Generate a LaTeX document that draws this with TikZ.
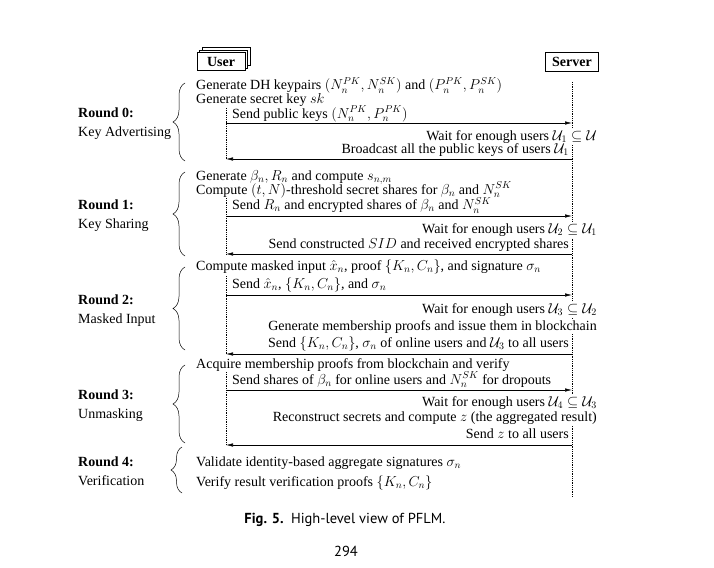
\documentclass[tikz,border=0pt]{standalone}
\usepackage{fontspec}
\setmainfont{Liberation Serif}
\newfontfamily\capfont{PT Sans}
\usetikzlibrary{arrows.meta,decorations.pathreplacing,shadows}

\begin{document}
\begin{tikzpicture}[
		x=1pt, y=-1pt,
		every node/.style={inner sep=0pt, font=\fontsize{14}{16}\selectfont},
		actor/.style={draw, fill=white, line width=0.6pt, minimum height=18pt, font=\fontsize{14}{16}\selectfont\bfseries},
		lifeline/.style={line width=0.5pt, dash pattern=on 0.8pt off 1pt},
		msg/.style={-{Latex[length=7pt,width=3.5pt]}, line width=0.6pt},
		usertext/.style={anchor=base west},
		servertext/.style={anchor=base east},
		waittext/.style={anchor=base east, fill=white, inner ysep=1.5pt},
		roundbrace/.style={decorate, decoration={brace, amplitude=12pt}, line width=0.5pt},
		roundlabel/.style={anchor=base west},
		captext/.style={anchor=base, font=\capfont\fontsize{14.5}{16}\selectfont}
		]
		\useasboundingbox (0,0) rectangle (714,567);
		
		% ---------------------------------------------------------
		% Actors and life lines
		% ---------------------------------------------------------
		\node[actor, minimum width=48pt, double copy shadow={shadow xshift=2.5pt, shadow yshift=2.5pt, draw, fill=white}] (user) at (221,61.5) {User};
		\node[actor, minimum width=53pt, minimum height=19pt] (server) at (572,61.5) {Server};
		
		\coordinate (srvtop) at (572,82);
		\coordinate (srvend) at (572,497);
		\draw[lifeline] (srvtop) -- (srvend);
		
		% messages of each round: top of user line / send arrow / answer arrow
		\foreach \n/\top/\go/\back in {0/108/123/159, 1/198/216/254, 2/276/295/354, 3/372/390/445} {
			\coordinate (u\n top) at (226,\top);
			\coordinate (u\n go) at (226,\go);
			\coordinate (s\n go) at (572,\go);
			\coordinate (s\n back) at (572,\back);
			\coordinate (u\n back) at (226,\back);
			\draw[lifeline] (u\n top) -- (u\n back);
			\draw[msg] (u\n go) -- (s\n go);
			\draw[msg] (s\n back) -- (u\n back);
		}
		
		% ---------------------------------------------------------
		% Round labels and braces
		% ---------------------------------------------------------
		\foreach \n/\top/\bot/\lab in {0/83/161/Key Advertising, 1/172/256/Key Sharing, 2/267/350/Masked Input, 3/365/443/Unmasking} {
			\node[roundlabel, font=\fontsize{14}{16}\selectfont\bfseries] (round\n) at (78,{(\top+\bot)/2-4.5}) {Round \n:};
			\node[roundlabel] (name\n) at (78,{(\top+\bot)/2+14.5}) {\lab};
			\draw[roundbrace] (185,\bot) -- (185,\top);
		}
		\node[roundlabel, font=\fontsize{14}{16}\selectfont\bfseries] (round4) at (78,466.5) {Round 4:};
		\node[roundlabel] (name4) at (78,485.5) {Verification};
		\draw[roundbrace, decoration={amplitude=11pt}] (182,493) -- (182,447);
		
		% ---------------------------------------------------------
		% Round 0
		% ---------------------------------------------------------
		\node[usertext] (r0gen) at (196,90) {Generate DH keypairs $(N_n^{PK}, N_n^{SK})$ and $(P_n^{PK}, P_n^{SK})$};
		\node[usertext] (r0key) at (196,103.5) {Generate secret key $sk$};
		\node[usertext] (r0send) at (232,118) {Send public keys $(N_n^{PK}, P_n^{PK})$};
		\node[waittext] (r0wait) at (597,140) {Wait for enough users $\mathcal{U}_1 \subseteq \mathcal{U}$};
		\node[servertext] (r0bcast) at (569,153.5) {Broadcast all the public keys of users $\mathcal{U}_1$};
		
		% ---------------------------------------------------------
		% Round 1
		% ---------------------------------------------------------
		\node[usertext] (r1gen) at (196,180.5) {Generate $\beta_n, R_n$ and compute $s_{n,m}$};
		\node[usertext] (r1comp) at (196,194) {Compute $(t, N)$-threshold secret shares for $\beta_n$ and $N_n^{SK}$};
		\node[usertext] (r1send) at (232,209.5) {Send $R_n$ and encrypted shares of $\beta_n$ and $N_n^{SK}$};
		\node[waittext] (r1wait) at (597,233) {Wait for enough users $\mathcal{U}_2 \subseteq \mathcal{U}_1$};
		\node[servertext] (r1sid) at (569,248) {Send constructed $SID$ and received encrypted shares};
		
		% ---------------------------------------------------------
		% Round 2
		% ---------------------------------------------------------
		\node[usertext] (r2comp) at (196,270) {Compute masked input $\hat{x}_n$, proof $\{K_n, C_n\}$, and signature $\sigma_n$};
		\node[usertext] (r2send) at (232,288) {Send $\hat{x}_n$, $\{K_n, C_n\}$, and $\sigma_n$};
		\node[waittext] (r2wait) at (597,313) {Wait for enough users $\mathcal{U}_3 \subseteq \mathcal{U}_2$};
		\node[waittext] (r2gen) at (597,330) {Generate membership proofs and issue them in blockchain};
		\node[servertext] (r2sendk) at (569,347) {Send $\{K_n, C_n\}$, $\sigma_n$ of online users and $\mathcal{U}_3$ to all users};
		
		% ---------------------------------------------------------
		% Round 3
		% ---------------------------------------------------------
		\node[usertext] (r3acq) at (196,368) {Acquire membership proofs from blockchain and verify};
		\node[usertext] (r3send) at (232,384) {Send shares of $\beta_n$ for online users and $N_n^{SK}$ for dropouts};
		\node[waittext] (r3wait) at (597,406) {Wait for enough users $\mathcal{U}_4 \subseteq \mathcal{U}_3$};
		\node[waittext] (r3rec) at (597,421.5) {Reconstruct secrets and compute $z$ (the aggregated result)};
		\node[servertext] (r3sendz) at (569,438.5) {Send $z$ to all users};
		
		% ---------------------------------------------------------
		% Round 4
		% ---------------------------------------------------------
		\node[usertext] (r4val) at (196,466.5) {Validate identity-based aggregate signatures $\sigma_n$};
		\node[usertext] (r4ver) at (196,486.5) {Verify result verification proofs $\{K_n, C_n\}$};
		
		% caption and page number
		\node[captext] (caption) at (345,523) {\textbf{Fig. 5.}\enspace High-level view of PFLM.};
		\node[captext] (page) at (346,556) {294};
		
	\end{tikzpicture}
\end{document}
